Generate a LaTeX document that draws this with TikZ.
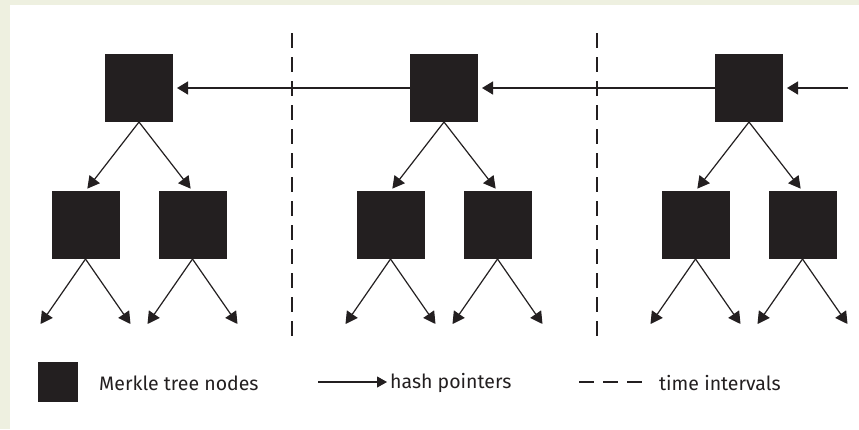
\documentclass[tikz,border=0pt]{standalone}
\usepackage{fontspec}
\setmainfont{Fira Sans}
\usetikzlibrary{arrows.meta,calc}
\definecolor{ink}{HTML}{231F20}
\definecolor{cream}{HTML}{EEF0E0}
\begin{document}
\begin{tikzpicture}[x=1pt,y=-1pt,
  hnode/.style={fill=ink,draw=none,minimum size=68pt,inner sep=0pt,outer sep=0pt},
  lnode/.style={fill=ink,draw=none,minimum size=40pt,inner sep=0pt},
  hptr/.style={draw=ink,line width=1.3pt,-{Triangle[length=11pt,width=13pt]}},
  dptr/.style={draw=ink,line width=1.2pt,-{Triangle[length=12pt,width=13pt]}},
  tline/.style={draw=ink,line width=1.1pt,dash pattern=on 15pt off 9pt},
  lbl/.style={font=\fontsize{19.5}{22}\selectfont,text=ink,anchor=west,inner sep=0pt}]
\useasboundingbox (0,0) rectangle (859,429);
\fill[cream] (0,0) rectangle (859,429);
\fill[white] (10,5) rectangle (859,429);
% time intervals
\coordinate (d1a) at (292,33); \coordinate (d1b) at (292,337);
\coordinate (d2a) at (597,33); \coordinate (d2b) at (597,337);
\draw[tline] (d1a) -- (d1b);
\draw[tline] (d2a) -- (d2b);
% trees
\foreach \i/\cx in {1/139,2/444,3/749}{
  \node[hnode] (t\i) at (\cx,88) {};
  \node[hnode] (l\i) at (\cx-53.5,225) {};
  \node[hnode] (r\i) at (\cx+53.5,225) {};
  \draw[dptr,shorten >=3pt] (t\i.south) -- (l\i.north);
  \draw[dptr,shorten >=3pt] (t\i.south) -- (r\i.north);
  \coordinate (ll\i) at (\cx-53.5-45,324);
  \coordinate (lr\i) at (\cx-53.5+45,324);
  \coordinate (rl\i) at (\cx+53.5-45,324);
  \coordinate (rr\i) at (\cx+53.5+45,324);
  \draw[dptr] (l\i.south) -- (ll\i);
  \draw[dptr] (l\i.south) -- (lr\i);
  \draw[dptr] (r\i.south) -- (rl\i);
  \draw[dptr] (r\i.south) -- (rr\i);
}
% hash pointers between blocks
\coordinate (in) at (848,88);
\draw[hptr,shorten >=4pt] (in) -- (t3.east);
\draw[hptr,shorten >=4pt] (t3.west) -- (t2.east);
\draw[hptr,shorten >=4pt] (t2.west) -- (t1.east);
% legend
\node[lnode] (legsq) at (58,382) {};
\node[lbl] (legsqt) at (99,383) {Merkle tree nodes};
\coordinate (lega) at (318,382);
\coordinate (legb) at (387,382);
\node[lbl] (legat) at (390,383) {hash pointers};
\draw[hptr,line width=1.1pt,-{Triangle[length=10pt,width=11pt]}] (lega) -- (legb);
\coordinate (legd) at (579,382);
\node[lbl] (legdt) at (659,383) {time intervals};
\draw[tline] (legd) -- ++(63,0);
\end{tikzpicture}
\end{document}
